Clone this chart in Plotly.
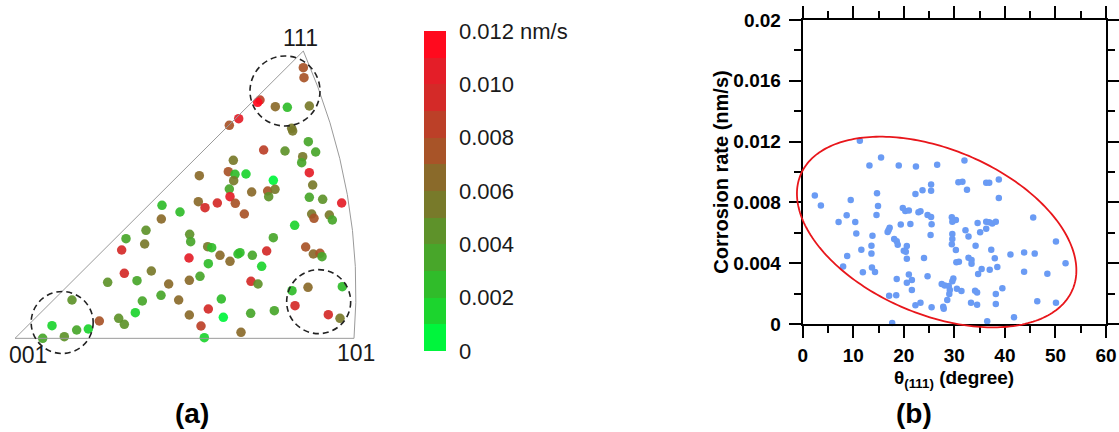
import numpy as np
import plotly.graph_objects as go

W, H = 1119, 432

# ---------------- Panel (a): inverse pole figure ----------------
# positions in triangle units (001 at origin, 101 at x=1017, 111 at (865, 862))
ipf_x = [865, 867, 735, 728, 781, 817, 883, 671, 643, 830, 833, 880, 746, 810, 902, 863, 860,
         655, 640, 660, 693, 656, 553, 883, 775, 893, 643, 710, 758, 780, 761, 645, 661, 550,
         570, 607, 688, 883, 923, 980, 441, 495, 439, 890, 897, 943, 952, 839, 393, 333, 389,
         524, 527, 775, 320, 578, 590, 615, 645, 669, 675, 712, 755, 872, 895, 915, 921, 522,
         580, 740, 328, 409, 278, 366, 461, 523, 555, 708, 729, 831, 879, 982, 171, 382, 438,
         491, 619, 840, 580, 361, 523, 625, 707, 778, 940, 975, 253, 311, 328, 111, 185, 220,
         148, 83, 558, 568, 678]
ipf_y = [812, 782, 715, 708, 695, 693, 697, 659, 639, 630, 622, 590, 565, 562, 559, 545, 527,
         534, 500, 492, 493, 473, 488, 497, 474, 460, 448, 439, 442, 447, 425, 425, 405, 410,
         392, 406, 373, 423, 417, 406, 399, 379, 358, 373, 360, 370, 355, 339, 324, 299, 283,
         312, 290, 302, 265, 275, 272, 249, 231, 253, 257, 249, 262, 274, 253, 255, 245, 241,
         224, 216, 195, 202, 168, 173, 163, 174, 186, 171, 163, 143, 153, 155, 115, 112, 129,
         115, 118, 98, 88, 77, 70, 63, 75, 83, 71, 60, 52, 60, 42, 38, 25, 28,
         5, 0, 37, 2, 18]
ipf_rate = [0.0075, 0.0075, 0.0085, 0.0115, 0.0065, 0.0025, 0.0055, 0.0105, 0.0075, 0.0055,
            0.0055, 0.0035, 0.0085, 0.0045, 0.0035, 0.0055, 0.0035, 0.0055, 0.0075, 0.0025,
            0.0015, 0.0055, 0.0065, 0.0105, 0.0005, 0.0055, 0.0035, 0.0065, 0.0075, 0.0055,
            0.0045, 0.0105, 0.0075, 0.0065, 0.0095, 0.0095, 0.0075, 0.0035, 0.0045, 0.0105,
            0.0025, 0.0025, 0.0065, 0.0055, 0.0075, 0.0055, 0.0035, 0.0015, 0.0045, 0.0035,
            0.0055, 0.0045, 0.0035, 0.0035, 0.0095, 0.0055, 0.0025, 0.0065, 0.0065, 0.0025,
            0.0025, 0.0035, 0.0095, 0.0075, 0.0065, 0.0075, 0.0035, 0.0105, 0.0025, 0.0015,
            0.0095, 0.0055, 0.0045, 0.0035, 0.0065, 0.0065, 0.0035, 0.0095, 0.0045, 0.0025,
            0.0065, 0.0025, 0.0045, 0.0035, 0.0035, 0.0065, 0.0025, 0.0095, 0.0095, 0.0015,
            0.0065, 0.0005, 0.0035, 0.0035, 0.0095, 0.0055, 0.0075, 0.0045, 0.0045, 0.0015,
            0.0035, 0.0015, 0.0045, 0.0035, 0.0085, 0.0015, 0.0065]

cbar_tickvals = [0, 0.002, 0.004, 0.006, 0.008, 0.010, 0.012]
cbar_ticktext = ["0", "0.002", "0.004", "0.006", "0.008", "0.010", "0.012 nm/s"]
band_colors = ["#00f53c", "#1cd42e", "#30bc2a", "#48a62a", "#5e922a", "#787a2a",
               "#8a6a2a", "#a85428", "#bc4028", "#d42a28", "#e41e28", "#ff0a1e"]

# ---------------- Panel (b): corrosion rate vs theta(111) ----------------
theta111 = [11.3, 15.5, 13.2, 19.0, 22.4, 26.6, 32.0, 30.8, 31.6, 32.5, 36.3, 36.9, 38.8, 38.8,
            25.4, 25.4, 23.7, 22.3, 14.7, 2.4, 3.6, 9.5, 14.9, 14.6, 8.7, 7.1, 10.4, 10.6, 13.8,
            11.6, 13.6, 13.6, 8.8, 8.0, 11.9, 13.7, 14.3, 17.0, 17.2, 16.8, 19.8, 20.3, 21.0,
            19.4, 21.3, 22.9, 23.3, 24.7, 25.4, 25.5, 25.3, 18.1, 18.6, 18.8, 20.6, 20.0, 20.4,
            20.6, 24.0, 21.0, 21.6, 20.6, 21.6, 18.6, 17.1, 18.5, 17.7, 24.7, 22.3, 23.3, 25.5,
            27.8, 27.9, 28.6, 27.5, 28.1, 28.9, 29.1, 29.0, 29.8, 29.6, 30.5, 31.4, 29.5, 30.3,
            29.6, 29.6, 29.6, 29.5, 30.3, 30.4, 30.9, 32.2, 32.8, 32.8, 33.4, 33.4, 34.2, 34.6,
            35.1, 36.3, 36.9, 37.5, 38.2, 36.3, 37.3, 38.0, 38.5, 34.7, 35.4, 37.0, 34.1, 34.5,
            33.3, 34.5, 38.2, 39.5, 38.2, 36.5, 41.8, 41.1, 43.8, 45.9, 45.6, 43.8, 46.4, 48.4,
            50.1, 50.1, 52.0]
rate_b = [0.01206, 0.01096, 0.01042, 0.01042, 0.01037, 0.01048, 0.01075, 0.00932, 0.00936,
          0.00884, 0.0093, 0.0093, 0.0095, 0.00829, 0.00917, 0.00877, 0.0088, 0.00855, 0.0086,
          0.00846, 0.00779, 0.00816, 0.00776, 0.00717, 0.00715, 0.00671, 0.00671, 0.00596,
          0.00581, 0.00489, 0.00515, 0.00463, 0.00447, 0.00379, 0.0034, 0.00371, 0.00342,
          0.00618, 0.00634, 0.00606, 0.00763, 0.00743, 0.00746, 0.00654, 0.00658, 0.00735,
          0.00741, 0.00717, 0.00704, 0.00656, 0.00586, 0.00559, 0.00544, 0.00522, 0.00513,
          0.00482, 0.00476, 0.0043, 0.00434, 0.00325, 0.0029, 0.00272, 0.00224, 0.00296,
          0.00186, 0.00189, 0.00007, 0.00314, 0.00123, 0.0014, 0.0011, 0.00114, 0.00101,
          0.00158, 0.00263, 0.00254, 0.0025, 0.00224, 0.00197, 0.003, 0.00281, 0.00232,
          0.00217, 0.00702, 0.00684, 0.00673, 0.00592, 0.00559, 0.00524, 0.00487, 0.00406,
          0.0041, 0.00616, 0.00575, 0.00436, 0.00421, 0.00397, 0.00515, 0.00664, 0.00603,
          0.00673, 0.00669, 0.00662, 0.00673, 0.00627, 0.00489, 0.00432, 0.00375, 0.00329,
          0.00362, 0.00357, 0.00219, 0.00208, 0.0014, 0.00127, 0.00197, 0.00235, 0.00132,
          0.00018, 0.00044, 0.00458, 0.00471, 0.00463, 0.007, 0.00344, 0.00149, 0.00331,
          0.00542, 0.0014, 0.00399]
xb_tickvals = [0, 10, 20, 30, 40, 50, 60]
yb_tickvals = [0, 0.004, 0.008, 0.012, 0.016, 0.02]
yb_ticktext = ["0", "0.004", "0.008", "0.012", "0.016", "0.02"]

# ---------------- layout geometry ----------------
A_DOM = [0, 400 / W]
A_XR = [-45, 1155]
A_YR = [-281, 1015]
B_X0, B_X1, B_Y0, B_Y1 = 802.7, 1106.0, 20.0, 324.0  # px of panel (b) plot area
B_XR = [0, 60]
B_YR = [0, 0.02]

FONT = "Liberation Sans, Arial, sans-serif"

colorscale = []
n = len(band_colors)
for i, c in enumerate(band_colors):
    colorscale += [[i / n, c], [(i + 1) / n, c]]

fig = go.Figure()

fig.add_trace(go.Scatter(
    x=ipf_x, y=ipf_y, mode="markers", xaxis="x", yaxis="y",
    marker=dict(size=9.5, color=ipf_rate, colorscale=colorscale, cmin=0, cmax=0.012,
                opacity=0.92, line=dict(width=0),
                colorbar=dict(x=424 / W, xanchor="left", xpad=0, y=1 - 191 / H,
                              yanchor="middle", ypad=0, len=320, lenmode="pixels",
                              thickness=22, thicknessmode="pixels", outlinewidth=0,
                              tickvals=cbar_tickvals, ticktext=cbar_ticktext,
                              ticks="outside", ticklen=9, tickcolor="rgba(0,0,0,0)",
                              tickfont=dict(family=FONT, size=22, color="#1a1a1a"))),
    showlegend=False, hoverinfo="skip"))

fig.add_trace(go.Scatter(
    x=theta111, y=rate_b, mode="markers", xaxis="x2", yaxis="y2",
    marker=dict(size=6.5, color="#6a9bf4", line=dict(width=0)),
    cliponaxis=False, showlegend=False))

# triangle outline
grey = dict(color="#9a9a9a", width=1)
shapes = [
    dict(type="line", xref="x", yref="y", x0=0, y0=0, x1=1017, y1=0, line=grey),
    dict(type="line", xref="x", yref="y", x0=0, y0=0, x1=865, y1=862, line=grey),
    dict(type="path", xref="x", yref="y", path="M 1017,0 Q 1053,431 865,862", line=grey),
]
# dashed circles (centre x, centre y, radius)
for cx, cy, r in [(141.5, 47.5, 93), (810, 742, 105), (911, 110, 96)]:
    shapes.append(dict(type="circle", xref="x", yref="y", x0=cx - r, x1=cx + r,
                       y0=cy - r, y1=cy + r,
                       line=dict(color="#222222", width=1.6, dash="6px,4px")))

# ellipse in panel (b) (centre in data units, semi-axes in px, tilt in degrees)
ell_cx, ell_cy = 26.5, 0.00605
ell_a, ell_b, ell_ang = 147.6, 82.6, 22.9
sx = (B_X1 - B_X0) / (B_XR[1] - B_XR[0])
sy = (B_Y1 - B_Y0) / (B_YR[1] - B_YR[0])
cpx = B_X0 + (ell_cx - B_XR[0]) * sx
cpy = B_Y1 - (ell_cy - B_YR[0]) * sy
t = np.linspace(0, 2 * np.pi, 241)
th = np.radians(ell_ang)
ex = cpx + ell_a * np.cos(th) * np.cos(t) - ell_b * np.sin(th) * np.sin(t)
ey = cpy + ell_a * np.sin(th) * np.cos(t) + ell_b * np.cos(th) * np.sin(t)
path = "M " + " L ".join(f"{x / W:.5f},{1 - y / H:.5f}" for x, y in zip(ex, ey)) + " Z"
shapes.append(dict(type="path", xref="paper", yref="paper", path=path,
                   line=dict(color="#e8161b", width=1.8)))


def ann(text, x, y, size, xref="paper", yref="paper", angle=0, color="black"):
    return dict(text=text, x=x, y=y, xref=xref, yref=yref, showarrow=False,
                xanchor="center", yanchor="middle", textangle=angle,
                font=dict(family=FONT, size=size, color=color))


annotations = [
    ann("111", 855, 900, 23, "x", "y", color="#1a1a1a"),
    ann("001", 39, -50, 23, "x", "y", color="#1a1a1a"),
    ann("101", 1023, -43, 23, "x", "y", color="#1a1a1a"),
    ann("<b>Corrosion rate (nm/s)</b>", 720.7 / W, 1 - 172 / H, 20, angle=-90),
    ann("<b>θ<sub>(111)</sub> (degree)</b>", 954 / W, 1 - 379 / H, 19),
    ann("<b>(a)</b>", 192 / W, 1 - 413 / H, 28),
    ann("<b>(b)</b>", 914 / W, 1 - 413 / H, 28),
]

tickfont_b = dict(family=FONT, size=19, color="black", weight="bold")
fig.update_layout(
    width=W, height=H, margin=dict(l=0, r=0, t=0, b=0, autoexpand=False),
    paper_bgcolor="white", plot_bgcolor="white",
    xaxis=dict(domain=A_DOM, range=A_XR, visible=False, fixedrange=True),
    yaxis=dict(domain=[0, 1], range=A_YR, visible=False, fixedrange=True),
    xaxis2=dict(domain=[B_X0 / W, B_X1 / W], range=B_XR, anchor="y2",
                tickvals=xb_tickvals, ticks="outside", ticklen=12, tickwidth=2,
                tickcolor="black", showline=True, linewidth=2, linecolor="black",
                mirror="allticks", showgrid=False, zeroline=False, tickfont=tickfont_b,
                ticklabelstandoff=1, automargin=False,
                minor=dict(dtick=5, ticks="outside", ticklen=7, tickwidth=2,
                           tickcolor="black", showgrid=False)),
    yaxis2=dict(domain=[1 - B_Y1 / H, 1 - B_Y0 / H], range=B_YR, anchor="x2",
                tickvals=yb_tickvals, ticktext=yb_ticktext, ticks="outside", ticklen=12,
                tickwidth=2, tickcolor="black", showline=True, linewidth=2,
                linecolor="black", mirror="allticks", showgrid=False, zeroline=False,
                tickfont=tickfont_b, ticklabelstandoff=4, automargin=False,
                minor=dict(dtick=0.002, ticks="outside", ticklen=7, tickwidth=2,
                           tickcolor="black", showgrid=False)),
    shapes=shapes, annotations=annotations,
)

fig.write_html("out.html")
